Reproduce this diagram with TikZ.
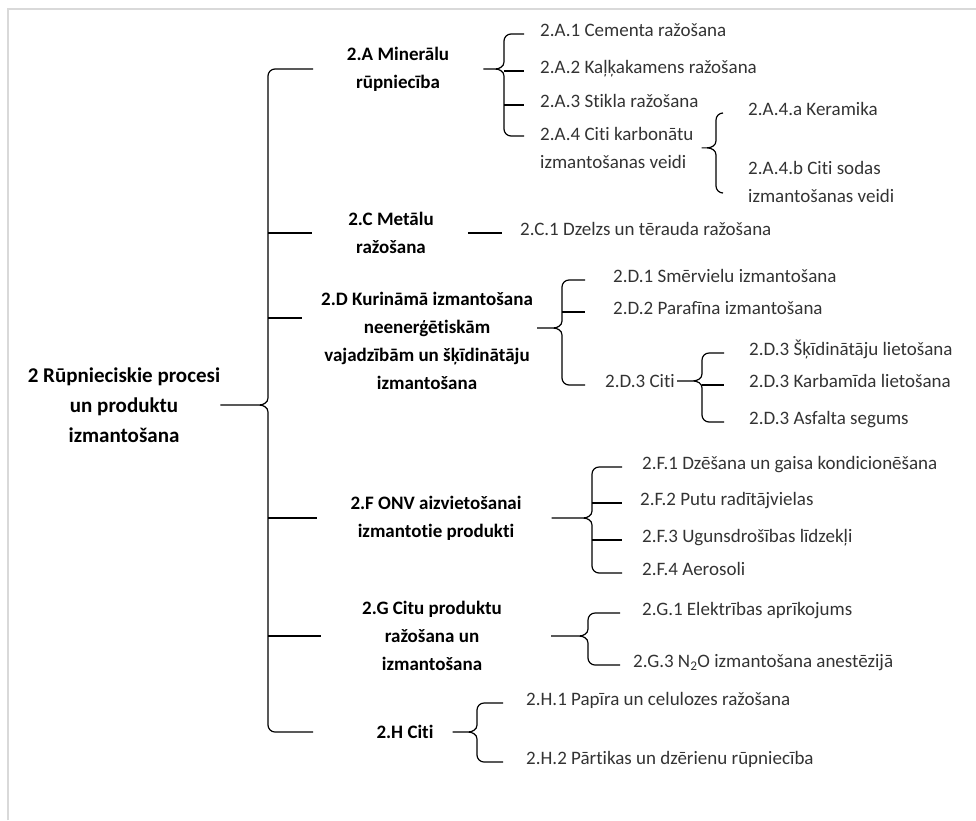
\documentclass[tikz,border=0pt]{standalone}
\usepackage{fontspec}
\setmainfont{Carlito}[Ligatures=NoCommon]
\usetikzlibrary{calc}

\tikzset{
  item/.style={anchor=mid west, inner sep=0pt, text=black!80, align=left,
    font=\fontsize{19}{28}\selectfont},
  head/.style={inner sep=0pt, align=center, font=\fontsize{19}{28}\selectfont\bfseries},
  conn/.style={line width=1.2pt, black},
}

% curly fork: brace x, spike start, top child, bottom child, arm length
\newcommand{\fork}[5]{%
  \draw[conn] let \p0=(#1), \p1=(#2), \p2=(#3), \p3=(#4) in
    (\x0+#5,\y2) -- (\x0+7pt,\y2) to[out=180,in=90] (\x0,\y2-7pt)
    -- (\x0,\y1+7pt) to[out=-90,in=0] (\x0-9pt,\y1) -- (\p1)
    (\x0-9pt,\y1) to[out=0,in=90] (\x0,\y1-7pt)
    -- (\x0,\y3+7pt) to[out=-90,in=180] (\x0+7pt,\y3) -- (\x0+#5,\y3);}

\begin{document}
\begin{tikzpicture}[x=1pt, y=-1pt]
\useasboundingbox (0,0) rectangle (976,820);
\draw[black!15, line width=2pt] (8,820) -- (8,9) -- (976,9);

% main groups
\node[head, font=\fontsize{21}{30}\selectfont\bfseries] (root) at (124,405) {2 Rūpnieciskie procesi\\un produktu\\izmantošana};
\node[head] (A) at (398,69) {2.A Minerālu\\rūpniecība};
\node[head] (C) at (391,233) {2.C Metālu\\ražošana};
\node[head] (D) at (427,341) {2.D Kurināmā izmantošana\\neenerģētiskām\\vajadzībām un šķīdinātāju\\izmantošana};
\node[head] (F) at (436,518) {2.F ONV aizvietošanai\\izmantotie produkti};
\node[head] (G) at (432,636) {2.G Citu produktu\\ražošana un\\izmantošana};
\node[head] (H) at (405,732) {2.H Citi};

% sub-items (two-line items are placed by their last line)
\node[item] (A1) at (540,34) {2.A.1 Cementa ražošana};
\node[item] (A2) at (540,71) {2.A.2 Kaļķakamens ražošana};
\node[item] (A3) at (540,105) {2.A.3 Stikla ražošana};
\node[item] (A4) at (540,166) {2.A.4 Citi karbonātu\\izmantošanas veidi};
\node[item] (A4a) at (748,113) {2.A.4.a Keramika};
\node[item] (A4b) at (748,200) {2.A.4.b Citi sodas\\izmantošanas veidi};
\node[item] (C1) at (520,233) {2.C.1 Dzelzs un tērauda ražošana};
\node[item] (D1) at (613,280) {2.D.1 Smērvielu izmantošana};
\node[item] (D2) at (613,312) {2.D.2 Parafīna izmantošana};
\node[item] (D3) at (605,385) {2.D.3 Citi};
\node[item] (D31) at (749,353) {2.D.3 Šķīdinātāju lietošana};
\node[item] (D32) at (749,385) {2.D.3 Karbamīda lietošana};
\node[item] (D33) at (749,422) {2.D.3 Asfalta segums};
\node[item] (F1) at (642,467) {2.F.1 Dzēšana un gaisa kondicionēšana};
\node[item] (F2) at (640,503) {2.F.2 Putu radītājvielas};
\node[item] (F3) at (642,540) {2.F.3 Ugunsdrošības līdzekļi};
\node[item] (F4) at (642,573) {2.F.4 Aerosoli};
\node[item] (G1) at (642,613) {2.G.1 Elektrības aprīkojums};
\node[item] (G3) at (633,665) {2.G.3 N\textsubscript{2}O izmantošana anestēzijā};
\node[item] (H1) at (526,703) {2.H.1 Papīra un celulozes ražošana};
\node[item] (H2) at (526,762) {2.H.2 Pārtikas un dzērienu rūpniecība};

% brace positions
\coordinate (bR) at (268,0);
\coordinate (bA) at (504,0);
\coordinate (bA4) at (716,0);
\coordinate (bD) at (562,0);
\coordinate (bD3) at (702,0);
\coordinate (bF) at (592,0);
\coordinate (bG) at (588,0);
\coordinate (bH) at (477,0);
\coordinate (dArm) at ([yshift=23pt]D.west);
\coordinate (a4Arm) at ([yshift=30pt]A4.mid west);
\coordinate (a4bArm) at ([yshift=7pt]A4b.mid west);

% braces
\fork{bR}{root.east}{A.west}{H.west}{45pt}
\draw[conn] (bR |- C.west) -- ++(44pt,0);
\draw[conn] (bR |- dArm) -- ++(34pt,0);
\draw[conn] (bR |- F.west) -- ++(49pt,0);
\draw[conn] (bR |- G.west) -- ++(53pt,0);

\fork{bA}{[xshift=34pt]A.east}{A1.mid west}{a4Arm}{20pt}
\draw[conn] (bA |- A2.mid west) -- ++(20pt,0);
\draw[conn] (bA |- A3.mid west) -- ++(20pt,0);
\fork{bA4}{[xshift=8pt]A4.east}{A4a.mid west}{a4bArm}{7pt}

\draw[conn] ([xshift=34pt]C.east) -- ([xshift=-18pt]C1.mid west);

\fork{bD}{[xshift=4pt,yshift=13pt]D.east}{D1.mid west}{D3.mid west}{23pt}
\draw[conn] (bD |- D2.mid west) -- ++(23pt,0);
\fork{bD3}{[xshift=2pt]D3.east}{D31.mid west}{D33.mid west}{22pt}
\draw[conn] (bD3 |- D32.mid west) -- ++(22pt,0);

\fork{bF}{[xshift=30pt]F.east}{F1.mid west}{F4.mid west}{30pt}
\draw[conn] (bF |- F2.mid west) -- ++(30pt,0);
\draw[conn] (bF |- F3.mid west) -- ++(30pt,0);

\fork{bG}{[xshift=49pt]G.east}{G1.mid west}{G3.mid west}{32pt}
\fork{bH}{[xshift=19pt]H.east}{H1.mid west}{H2.mid west}{26pt}
\end{tikzpicture}
\end{document}
